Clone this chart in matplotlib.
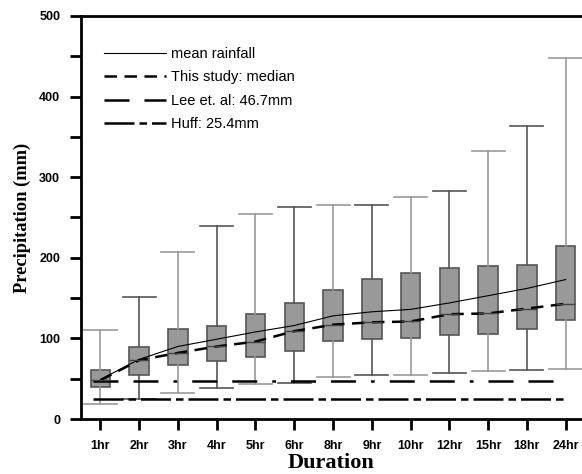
import matplotlib.pyplot as plt
import numpy as np

durations = ['1hr', '2hr', '3hr', '4hr', '5hr', '6hr', '8hr', '9hr', '10hr', '12hr', '15hr', '18hr', '24hr']
whis_lo = [18, 25, 32, 39, 43, 45, 52, 54, 55, 57, 60, 61, 62]
q1 = [40, 54, 67, 72, 77, 84, 97, 99, 100, 104, 106, 112, 123]
med = [48, 73, 82, 90, 96, 109, 117, 120, 121, 130, 131, 137, 143]
q3 = [61, 89, 112, 115, 130, 144, 160, 174, 181, 187, 190, 191, 215]
whis_hi = [111, 151, 207, 239, 254, 263, 265, 266, 276, 283, 332, 364, 448]
mean_rain = [49, 74, 90, 99, 108, 116, 128, 133, 136, 144, 153, 162, 173]
lee = 46.7
huff = 25.4

fig = plt.figure(figsize=(5.82, 4.74), dpi=100)
ax = fig.add_axes([81/582, 55/474, 501/582, 403/474])

pos = np.arange(1, len(durations) + 1)
stats = []
for i in range(len(durations)):
    stats.append(dict(med=med[i], q1=q1[i], q3=q3[i], whislo=whis_lo[i], whishi=whis_hi[i]))

# whiskers alternate between two grays in the original
wcol = ['#999999', '#555555']
bp = ax.bxp(stats, positions=pos, widths=0.5, capwidths=0.85, showfliers=False, patch_artist=True,
            boxprops=dict(facecolor='#999999', edgecolor='#555555', linewidth=1.2),
            whiskerprops=dict(linewidth=1.2),
            capprops=dict(linewidth=1.2),
            medianprops=dict(color='#444444', linewidth=1.0))
for i in range(len(durations)):
    c = wcol[i % 2]
    for ln in bp['whiskers'][2*i:2*i+2] + bp['caps'][2*i:2*i+2]:
        ln.set_color(c)

ax.plot(pos, mean_rain, color='black', lw=0.8, label='mean rainfall')
ax.plot(pos, med, color='black', lw=1.8, dashes=(5, 3), label='This study: median')
ax.hlines(lee, pos[0] - 0.2, pos[-1], colors='black', lw=1.8,
          linestyles=(0, (10, 6, 10, 6, 1.5, 6)), label='Lee et. al: 46.7mm')
ax.hlines(huff, pos[0] - 0.2, pos[-1], colors='black', lw=1.8,
          linestyles=(0, (12, 2, 3, 2)), label='Huff: 25.4mm')

ax.set_xlim(0.5, 13.42)
ax.set_ylim(0, 500)
ax.set_xticks(pos)
ax.set_xticklabels(durations)
ax.set_yticks(np.arange(0, 501, 100))
ax.set_yticks(np.arange(50, 500, 100), minor=True)

for s in ['left', 'bottom', 'top']:
    ax.spines[s].set_linewidth(2)
ax.spines['right'].set_visible(False)
ax.tick_params(axis='both', which='both', direction='out', width=2, length=8)
ax.tick_params(axis='x', pad=7)
ax.tick_params(axis='y', pad=7)
for lab in ax.get_xticklabels() + ax.get_yticklabels():
    lab.set_fontfamily('Liberation Sans')
    lab.set_fontweight('bold')
    lab.set_fontsize(9)

ax.set_ylabel('Precipitation (mm)', fontfamily='Liberation Serif', fontweight='bold', fontsize=13.3, labelpad=6)
ax.set_xlabel('Duration', fontfamily='Liberation Serif', fontweight='bold', fontsize=16, labelpad=1)

ax.legend(loc='upper left', bbox_to_anchor=(0.035, 0.938), borderaxespad=0, frameon=False,
          handlelength=4.2, handletextpad=0.35, labelspacing=0.65,
          prop=dict(family='Liberation Sans', size=10.5))

fig.savefig('out.png', dpi=100)
